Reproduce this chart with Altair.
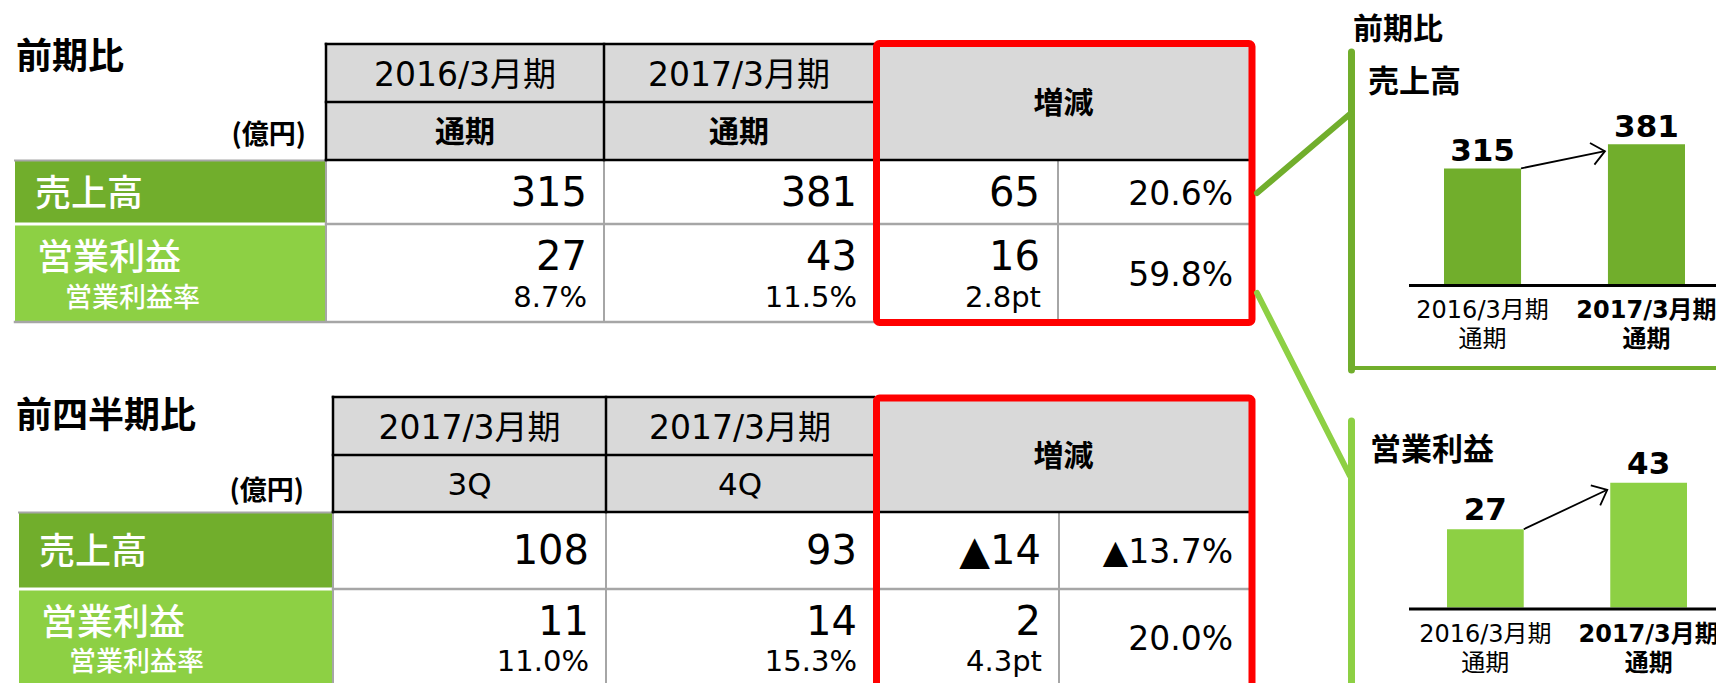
import math
import altair as alt
import pandas as pd

# ---------------- data ----------------
yoy_title = "前期比"
qoq_title = "前四半期比"
unit_label = "(億円)"
metric_labels = ["売上高", "営業利益"]
margin_label = "営業利益率"
change_header = "増減"

yoy_periods = ["2016/3月期", "2017/3月期"]
yoy_subperiods = ["通期", "通期"]
yoy_sales = [315, 381]
yoy_profit = [27, 43]
yoy_margin = ["8.7%", "11.5%"]
yoy_change = ["65", "16"]
yoy_change_rate = ["20.6%", "59.8%"]
yoy_margin_change = "2.8pt"

qoq_periods = ["2017/3月期", "2017/3月期"]
qoq_subperiods = ["3Q", "4Q"]
qoq_sales = [108, 93]
qoq_profit = [11, 14]
qoq_margin = ["11.0%", "15.3%"]
qoq_change = ["▲14", "2"]
qoq_change_rate = ["▲13.7%", "20.0%"]
qoq_margin_change = "4.3pt"

bar_categories = ["2016/3月期\n通期", "2017/3月期\n通期"]

# ---------------- layout / style ----------------
W, H = 1708, 675
OX, OY = 8, 8
CX = alt.Scale(domain=[OX, OX + W], range=[0, W], zero=False, nice=False)
CY = alt.Scale(domain=[OY, OY + H], range=[0, H], zero=False, nice=False)

DARK = "#71AE2C"
LIGHT = "#8DD044"
HEAD = "#D9D9D9"
GRID = "#A6A6A6"
RED = "#FF0000"
NUM_FONT = "DejaVu Sans, Noto Sans CJK JP"
JP_FONT = "Noto Sans CJK JP"

texts, rects, lines, round_lines, boxes = [], [], [], [], []


def T(x, y, text, align="left", size=30, weight="normal", color="black", font=JP_FONT):
    texts.append(dict(x=x, y=y, text=text, align=align, size=size, weight=weight,
                      color=color, font=font))


def R(x0, y0, x1, y1, fill):
    rects.append(dict(x0=x0, y0=y0, x1=x1, y1=y1, fill=fill))


def L(x0, y0, x1, y1, color, w, target=None):
    (lines if target is None else target).append(
        dict(x0=x0, y0=y0, x1=x1, y1=y1, color=color, w=w))


G1 = dict(lx0=15, lx1=326, c1=604, c2=874, c3=1058, c4=1253, top=44, hmid=102,
          hbot=160, rmid=224, rbot=322, title_x=16, title_y=69, unit_x=306,
          unit_y=143.5, red_top=43.5, red_bot=322.5)
G2 = dict(lx0=19, lx1=333, c1=606, c2=874, c3=1059, c4=1253, top=397, hmid=455,
          hbot=512, rmid=589, rbot=686, title_x=16, title_y=428, unit_x=304,
          unit_y=500, red_top=398, red_bot=705)


def table(g, title, periods, subperiods, sales, profit, margin, change, change_rate,
          margin_change):
    lx0, lx1, c1, c2, c3, c4 = g["lx0"], g["lx1"], g["c1"], g["c2"], g["c3"], g["c4"]
    top, hmid, hbot, rmid, rbot = g["top"], g["hmid"], g["hbot"], g["rmid"], g["rbot"]
    R(lx1, top, c4, hbot, HEAD)
    R(lx0, hbot, lx1, rmid - 1.5, DARK)
    R(lx0, rmid + 1.5, lx1, rbot, LIGHT)
    L(lx0, hbot + 0.5, lx1, hbot + 0.5, GRID, 2)
    L(lx1, rmid, c4, rmid, GRID, 2.5)
    L(lx0, rbot, c4, rbot, GRID, 2.5)
    for xx in (lx1, c1, c3):
        L(xx, hbot, xx, rbot, GRID, 2)
    L(lx1, top, c2, top, "black", 2.5)
    L(lx1, hmid, c2, hmid, "black", 2.5)
    L(lx1, hbot, c4, hbot, "black", 2.5)
    L(lx1, top, lx1, hbot, "black", 2.5)
    L(c1, top, c1, hbot, "black", 2.5)
    boxes.append(dict(x0=c2 + 2.5, y0=g["red_top"], x1=c4 - 1, y1=g["red_bot"]))

    T(g["title_x"], g["title_y"], title, size=36, weight="bold")
    T(g["unit_x"], g["unit_y"], unit_label, align="right", size=27, weight="bold")
    cols = [(lx1, c1), (c1, c2)]
    for (a, b), p, s in zip(cols, periods, subperiods):
        T((a + b) / 2, top + 41.5, p, align="center", size=33, font=NUM_FONT)
        jp = not s.isascii()
        T((a + b) / 2, hmid + 40, s, align="center", size=30 if jp else 31,
          weight="bold" if jp else "normal", font=NUM_FONT)
    T((c2 + c4) / 2, (top + hbot) / 2 + 11, change_header, align="center", size=30,
      weight="bold")
    r1 = (hbot + rmid) / 2
    r2 = (rmid + rbot) / 2
    T(lx0 + 20, r1 + 13.5, metric_labels[0], size=36, color="white", weight="500")
    T(lx0 + 22, r2 - 3, metric_labels[1], size=36, color="white", weight="500")
    T(lx0 + 50, r2 + 33.5, margin_label, size=27, color="white", weight="500")
    for (a, b), v, pv, m in zip(cols, sales, profit, margin):
        T(b - 17, r1 + 13.5, str(v), align="right", size=40, font=NUM_FONT)
        T(b - 17, r2 - 3, str(pv), align="right", size=40, font=NUM_FONT)
        T(b - 17, r2 + 33.5, m, align="right", size=29, font=NUM_FONT)
    T(c3 - 18, r1 + 13.5, change[0], align="right", size=40, font=NUM_FONT)
    T(c3 - 18, r2 - 3, change[1], align="right", size=40, font=NUM_FONT)
    T(c3 - 17, r2 + 33.5, margin_change, align="right", size=29, font=NUM_FONT)
    T(c4 - 20, r1 + 12.5, change_rate[0], align="right", size=33, font=NUM_FONT)
    T(c4 - 20, r2 + 12.5, change_rate[1], align="right", size=33, font=NUM_FONT)


table(G1, yoy_title, yoy_periods, yoy_subperiods, yoy_sales, yoy_profit, yoy_margin,
      yoy_change, yoy_change_rate, yoy_margin_change)
table(G2, qoq_title, qoq_periods, qoq_subperiods, qoq_sales, qoq_profit, qoq_margin,
      qoq_change, qoq_change_rate, qoq_margin_change)

# right-hand callout frame
L(1351.5, 52, 1351.5, 370, DARK, 7, round_lines)
L(1351.5, 368, 1730, 368, DARK, 4, round_lines)
L(1257, 193, 1350, 114, DARK, 6, round_lines)
L(1351.5, 421, 1351.5, 700, LIGHT, 7, round_lines)
L(1257, 293, 1350, 476, LIGHT, 6, round_lines)
T(1353, 39, yoy_title, size=30, weight="bold")
T(1368, 91.5, metric_labels[0], size=31, weight="bold")
T(1370, 460, metric_labels[1], size=31, weight="bold")


def qx(f):
    return alt.X(f, type="quantitative", scale=CX, axis=None)


def qy(f):
    return alt.Y(f, type="quantitative", scale=CY, axis=None)


layers = []
layers.append(alt.Chart(pd.DataFrame(rects)).mark_rect().encode(
    x=qx("x0"), x2="x1:Q", y=qy("y0"), y2="y1:Q",
    color=alt.Color("fill:N", scale=None)))


def line_layer(rows, cap):
    return alt.Chart(pd.DataFrame(rows)).mark_rule(strokeCap=cap).encode(
        x=qx("x0"), x2="x1:Q", y=qy("y0"), y2="y1:Q",
        color=alt.Color("color:N", scale=None),
        strokeWidth=alt.StrokeWidth("w:Q", scale=None))


layers.append(line_layer(lines, "square"))
layers.append(alt.Chart(pd.DataFrame(boxes)).mark_rect(
    fillOpacity=0, stroke=RED, strokeWidth=7, cornerRadius=3).encode(
    x=qx("x0"), x2="x1:Q", y=qy("y0"), y2="y1:Q"))
layers.append(line_layer(round_lines, "round"))

tdf = pd.DataFrame(texts)
for (align, weight, font), grp in tdf.groupby(["align", "weight", "font"]):
    layers.append(alt.Chart(grp).mark_text(
        align=align, fontWeight=weight if not weight.isdigit() else int(weight),
        font=font, baseline="alphabetic").encode(
        x=qx("x"), y=qy("y"), text="text:N",
        size=alt.Size("size:Q", scale=None),
        color=alt.Color("color:N", scale=None)))

CHEVRON = "M -1 -0.85 L 0 0 L -1 0.85"


def bar_panel(values, color, x_range_ref, base_ref, unit_px, dmax, label_dy):
    r0, r1 = x_range_ref[0] - OX, x_range_ref[1] - OX
    base = base_ref - OY
    top = base - unit_px * dmax
    pad = 0.53
    bx = alt.Scale(type="band", domain=bar_categories, range=[r0, r1],
                   paddingInner=pad, paddingOuter=0)
    by = alt.Scale(domain=[0, dmax], range=[base, top], nice=False, zero=True)
    df = pd.DataFrame({"cat": bar_categories, "v": values,
                       "label": [str(v) for v in values], "z": [0] * len(values)})
    X = alt.X("cat:N", scale=bx, axis=None)
    Y = alt.Y("v:Q", scale=by, axis=None)
    out = []
    out.append(alt.Chart(df).mark_bar(color=color).encode(x=X, y=Y))
    out.append(alt.Chart(df).mark_text(
        dy=label_dy, fontSize=31, fontWeight="bold", font="DejaVu Sans",
        baseline="alphabetic", align="center", color="black").encode(
        x=X, y=Y, text="label:N"))
    out.append(alt.Chart(pd.DataFrame({"z": [0]})).mark_rule(
        color="black", strokeWidth=3, yOffset=1.5).encode(
        x=alt.value(1409 - OX), x2=alt.value(1730 - OX),
        y=alt.Y("z:Q", scale=by, axis=None)))
    # arrow between the two bars
    adx, ady = -3, 7
    n = len(bar_categories)
    step = (r1 - r0) / (n - pad)
    bw = step * (1 - pad)
    k = (base - top) / dmax
    dx = step - bw + adx
    dy = -(values[1] - values[0]) * k + ady
    ang = math.degrees(math.atan2(dy, dx)) % 360
    adf = pd.DataFrame({"from": [bar_categories[0]], "to": [bar_categories[1]],
                        "v1": [values[0]], "v2": [values[1]]})
    out.append(alt.Chart(adf).mark_rule(
        color="black", strokeWidth=1.8, x2Offset=adx, y2Offset=ady).encode(
        x=alt.X("from:N", scale=bx, axis=None, bandPosition=1),
        x2=alt.X2("to:N", bandPosition=0),
        y=alt.Y("v1:Q", scale=by, axis=None), y2="v2:Q"))
    out.append(alt.Chart(adf).mark_point(
        shape=CHEVRON, filled=False, color="black", strokeWidth=1.8, size=676,
        angle=ang, xOffset=adx, yOffset=ady, opacity=1).encode(
        x=alt.X("to:N", scale=bx, axis=None, bandPosition=0),
        y=alt.Y("v2:Q", scale=by, axis=None)))
    # category labels under the bars
    for i, cat in enumerate(bar_categories):
        out.append(alt.Chart(df).transform_filter(alt.datum.cat == cat).mark_text(
            lineBreak="\n", lineHeight=29, fontSize=24, font=NUM_FONT,
            fontWeight="bold" if i == n - 1 else "normal",
            baseline="alphabetic", align="center", dy=34, color="black").encode(
            x=X, y=alt.Y("z:Q", scale=by, axis=None), text="cat:N"))
    return out


layers += bar_panel(yoy_sales, DARK, (1444, 1685), 284, 0.367, 400, -7)
layers += bar_panel(yoy_profit, LIGHT, (1447, 1687), 607.5, 2.9, 50, -9)

chart = alt.layer(*layers).resolve_scale(
    x="independent", y="independent"
).properties(
    width=W, height=H, padding=0,
    autosize=alt.AutoSizeParams(type="none"), background="white"
).configure_view(stroke=None)

chart.save("out.html", embed_options={"renderer": "svg", "actions": False})
